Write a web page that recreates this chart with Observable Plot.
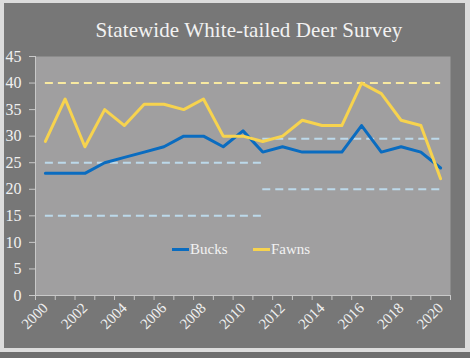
<!DOCTYPE html>
<html>
<head>
<meta charset="utf-8">
<script src="https://cdn.jsdelivr.net/npm/d3@7"></script>
<script src="https://cdn.jsdelivr.net/npm/@observablehq/plot@0.6"></script>
<style>
  html, body { margin: 0; padding: 0; }
  body { width: 470px; height: 358px; background: #6e6e6e; position: relative; overflow: hidden;
         font-family: "Liberation Serif", serif; }
  #border { position: absolute; left: 0; top: 0; width: 470px; height: 352px; background: #dcdcdc; }
  #frame { position: absolute; left: 4px; top: 3px; width: 461px; height: 345px; background: #777777; }
  #chart { position: absolute; left: 0; top: 0; }
  #chart svg, #chart svg text { font-family: "Liberation Serif", serif !important; }
  #title { position: absolute; left: 0; width: 470px; top: 18px; text-align: center; color: #f2f2f2;
           font-size: 21px; letter-spacing: 0.1px; white-space: nowrap; padding-left: 28px; box-sizing: border-box; }
  .leg { position: absolute; top: 240px; height: 18px; display: flex; align-items: center; color: #f2f2f2; font-size: 15px; }
  .sw { width: 17px; height: 3px; margin-right: 1px; }
</style>
</head>
<body>
<div id="border"></div>
<div id="frame"></div>
<div id="chart"></div>
<div id="title">Statewide White-tailed Deer Survey</div>
<div class="leg" style="left:172px"><div class="sw" style="background:#0a6cc0"></div>Bucks</div>
<div class="leg" style="left:253px"><div class="sw" style="background:#f7d34e"></div>Fawns</div>
<script>
const years = [2000,2001,2002,2003,2004,2005,2006,2007,2008,2009,2010,2011,2012,2013,2014,2015,2016,2017,2018,2019,2020];
const bucks = [23,23,23,25,26,27,28,30,30,28,31,27,28,27,27,27,32,27,28,27,24];
const fawns = [29,37,28,35,32,36,36,35,37,30,30,29,30,33,32,32,40,38,33,32,22];
const yTicks = [0,5,10,15,20,25,30,35,40,45];
const xTickLabels = [2000,2002,2004,2006,2008,2010,2012,2014,2016,2018,2020];
// reference (dashed) levels
const fawnRefs = [{level: 40, from: 2000, to: 2020}];
const buckRefs = [
  {level: 25, from: 2000, to: 2011},
  {level: 15, from: 2000, to: 2011},
  {level: 29.5, from: 2011, to: 2020},
  {level: 20, from: 2011, to: 2020}
];

const bucksData = years.map((y, i) => ({year: y, value: bucks[i]}));
const fawnsData = years.map((y, i) => ({year: y, value: fawns[i]}));
const boundaries = years.map(y => y - 0.5).concat([years[years.length - 1] + 0.5]);
const serif = "'Liberation Serif', serif";

const chart = Plot.plot({
  width: 470,
  height: 358,
  marginLeft: 35,
  marginRight: 20,
  marginTop: 56,
  marginBottom: 63,
  style: {background: "transparent", color: "#f0f0f0", fontSize: "15px", fontFamily: serif},
  x: {domain: [boundaries[0], boundaries[boundaries.length - 1]]},
  y: {domain: [0, 45]},
  marks: [
    Plot.frame({fill: "#a09fa0", stroke: null}),
    Plot.ruleX([boundaries[0]], {stroke: "#c9c9c9", strokeWidth: 1}),
    Plot.ruleY([0], {stroke: "#c9c9c9", strokeWidth: 1}),
    Plot.axisY({ticks: yTicks, tickSize: 6, tickPadding: 8, stroke: "#c9c9c9", label: null, fontSize: 16, fontFamily: serif, tickFormat: d => String(d)}),
    Plot.axisX({ticks: boundaries, tickSize: 5, stroke: "#c9c9c9", tickFormat: () => "", label: null}),
    Plot.axisX({ticks: xTickLabels, tickSize: 0, tickRotate: -45, tickPadding: 10, label: null, fontSize: 15, fontFamily: serif, tickFormat: d => String(d)}),
    Plot.ruleY(fawnRefs, {y: "level", x1: "from", x2: "to", stroke: "#f8e9a0", strokeWidth: 2, strokeDasharray: "8,5"}),
    Plot.ruleY(buckRefs, {y: "level", x1: "from", x2: "to", stroke: "#bcd9ea", strokeWidth: 2, strokeDasharray: "8,5"}),
    Plot.line(bucksData, {x: "year", y: "value", stroke: "#0a6cc0", strokeWidth: 3}),
    Plot.line(fawnsData, {x: "year", y: "value", stroke: "#f7d34e", strokeWidth: 3})
  ]
});
document.getElementById("chart").appendChild(chart);
</script>
</body>
</html>
